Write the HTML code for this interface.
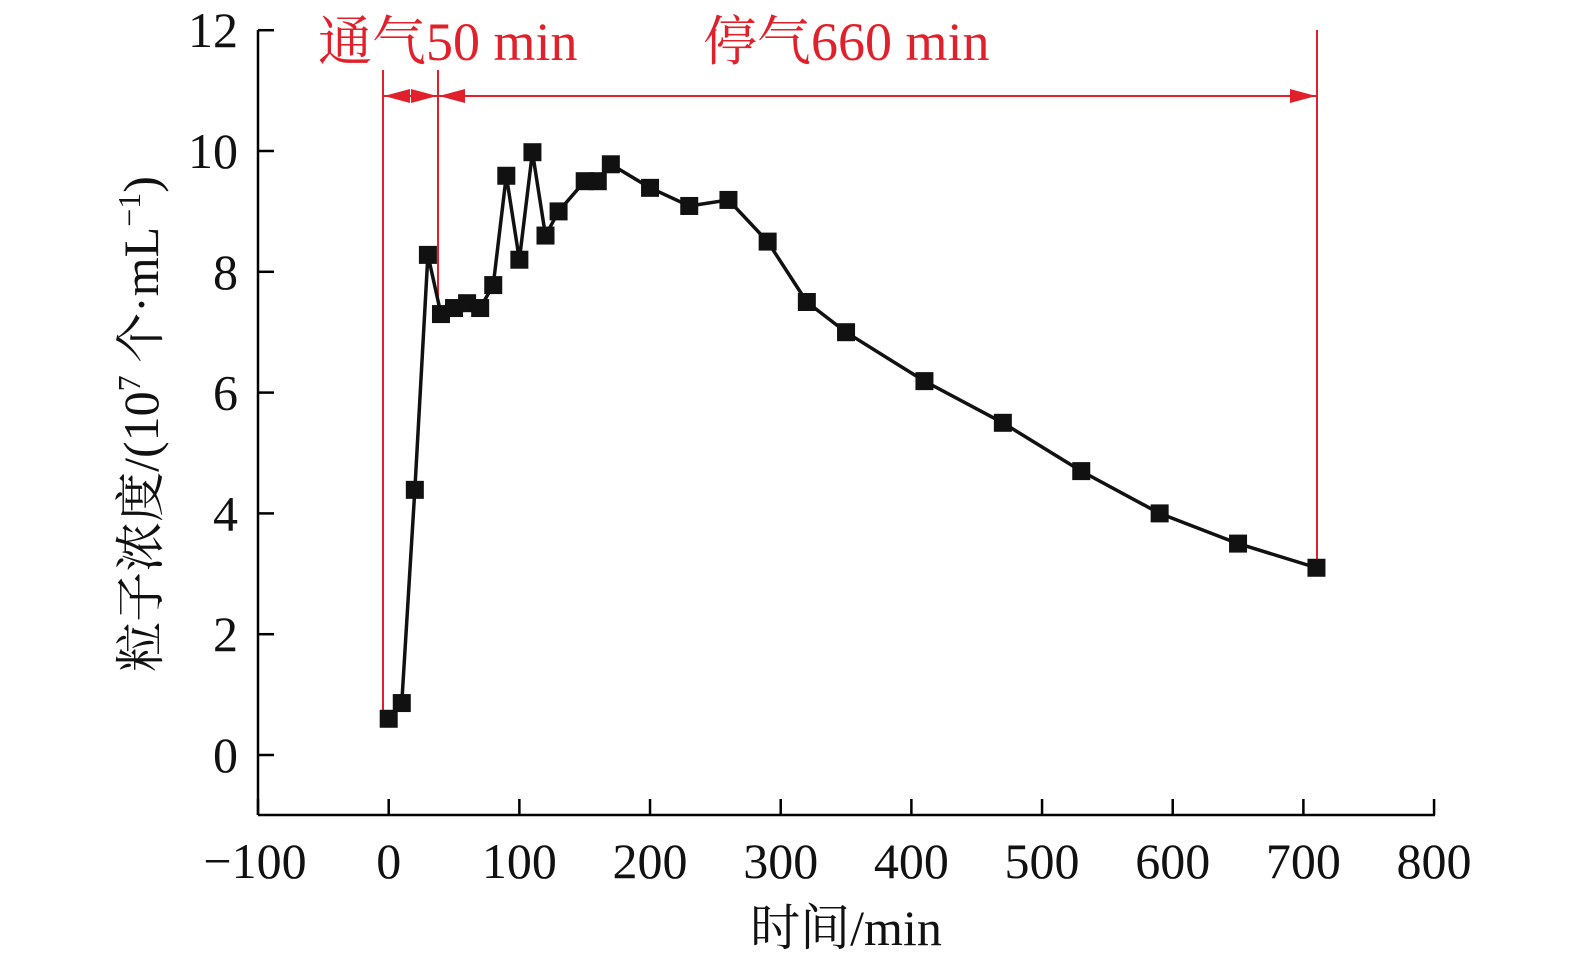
<!DOCTYPE html>
<html><head><meta charset="utf-8">
<style>
html,body{margin:0;padding:0;background:#fff;}
svg{display:block;}
text{font-family:"Liberation Serif","Noto Serif CJK SC",serif;}
</style></head>
<body>
<svg id="chart" width="1575" height="965" viewBox="0 0 1575 965" xmlns="http://www.w3.org/2000/svg"></svg>
<script>
const xValues = [0,10,20,30,40,50,60,70,80,90,100,110,120,130,150,160,170,200,230,260,290,320,350,410,470,530,590,650,710];
const yValues = [0.6,0.86,4.39,8.28,7.3,7.4,7.48,7.4,7.78,9.59,8.2,9.98,8.6,9.0,9.5,9.5,9.78,9.39,9.09,9.19,8.5,7.5,7.0,6.19,5.5,4.7,4.0,3.5,3.1];
const xTicks = [-100,0,100,200,300,400,500,600,700,800];
const yTicks = [0,2,4,6,8,10,12];

const NS = "http://www.w3.org/2000/svg";
const svg = document.getElementById('chart');
function X(v){ return 388.7 + v*1.3067; }
function Y(v){ return 755 - v*60.4; }
function el(tag, attrs, parent){
  const e = document.createElementNS(NS, tag);
  for (const k in attrs) e.setAttribute(k, attrs[k]);
  (parent||svg).appendChild(e);
  return e;
}
let a = el('line',{x1:258,y1:30,x2:258,y2:815,stroke:'#000','stroke-width':2.5});


a = el('line',{x1:258,y1:815,x2:1435,y2:815,stroke:'#000','stroke-width':2.5});


xTicks.forEach(t=>{
  const x = X(t);
  const tk = el('line',{x1:x,y1:815,x2:x,y2:799,stroke:'#000','stroke-width':2.5});
  
  
  const lb = el('text',{x:t<0?x-3:x,y:878,'font-size':50,'text-anchor':'middle',fill:'#111'});
  lb.textContent = t<0 ? '\u2212'+Math.abs(t) : String(t);
  
  
});
yTicks.forEach(t=>{
  const y = Y(t);
  const tk = el('line',{x1:258,y1:y,x2:274,y2:y,stroke:'#000','stroke-width':2.5});
  
  
  const lb = el('text',{x:238,y:y+17,'font-size':50,'text-anchor':'end',fill:'#111'});
  lb.textContent = String(t);
  
  
});
let xt = el('text',{x:846,y:945,'font-size':50,'text-anchor':'middle',fill:'#111'});
xt.textContent = '时间/min';


let yt = el('text',{x:0,y:0,'font-size':50,'text-anchor':'middle',fill:'#111',transform:'translate(158,424) rotate(-90)'});
yt.innerHTML = '粒子浓度/(10<tspan dy="-18" font-size="32">7</tspan><tspan dy="18"> 个·mL</tspan><tspan dy="-18" font-size="32">−1</tspan><tspan dy="18">)</tspan>';


const red = '#e0202a';
function rl(x1,y1,x2,y2,name){
  const l = el('line',{x1,y1,x2,y2,stroke:red,'stroke-width':2});
  
  
}
rl(383,70,383,720,'aeration-start-line');
rl(438,70,438,313,'aeration-end-line');
rl(1317,30,1317,568,'stop-end-line');
rl(383,96,438,96,'aeration-span-arrow');
rl(438,96,1317,96,'stop-span-arrow');
function head(x,y,dir,name){
  const p = el('polygon',{points:`${x},${y} ${x-dir*26},${y-7} ${x-dir*26},${y+7}`,fill:red});
  
  
}
head(384,96,-1,'arrowhead');
head(437,96,1,'arrowhead');
head(439,96,-1,'arrowhead');
head(1316,96,1,'arrowhead');
let t1 = el('text',{x:318,y:60,'font-size':54,fill:red});
t1.textContent = '通气50 min';


let t2 = el('text',{x:703,y:60,'font-size':54,fill:red});
t2.textContent = '停气660 min';


const pts = xValues.map((v,i)=>X(v)+','+Y(yValues[i])).join(' ');
const line = el('polyline',{points:pts,fill:'none',stroke:'#111','stroke-width':3.5,'stroke-linejoin':'round'});


xValues.forEach((v,i)=>{
  const r = el('rect',{x:X(v)-9,y:Y(yValues[i])-9,width:18,height:18,fill:'#111'});
  
  
});
</script>
</body></html>
